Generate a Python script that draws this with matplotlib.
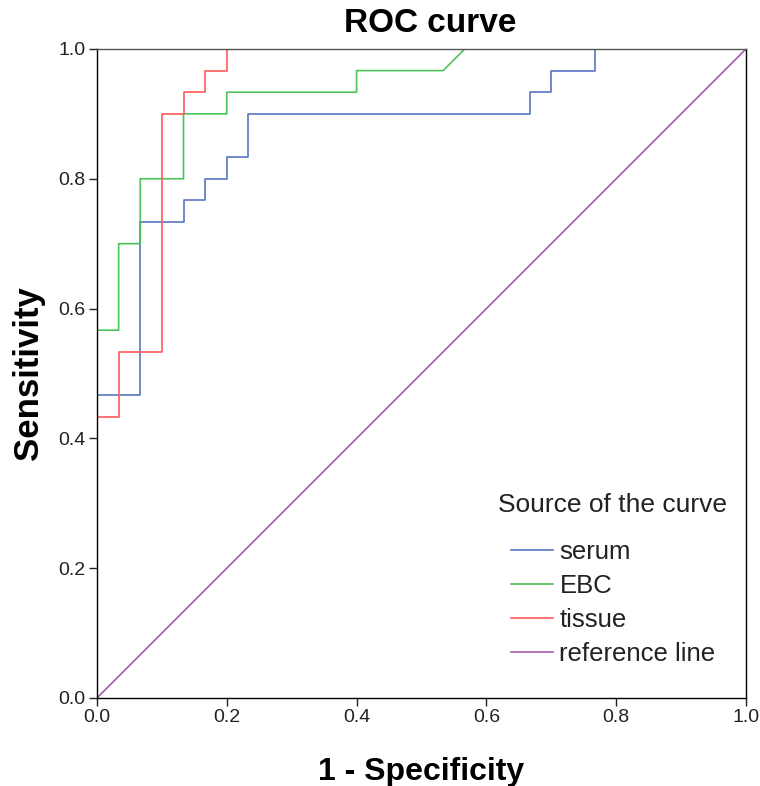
import matplotlib.pyplot as plt
import matplotlib.transforms as mtransforms
import numpy as np

N = 30  # cases per group

# ROC vertices as counts out of N (false positives, true positives)
serum_fp = [0, 0, 2, 2, 4, 4, 5, 5, 6, 6, 7, 7, 20, 20, 21, 21, 23, 23, 30]
serum_tp = [0, 14, 14, 22, 22, 23, 23, 24, 24, 25, 25, 27, 27, 28, 28, 29, 29, 30, 30]

ebc_fp = [0, 0, 1, 1, 2, 2, 4, 4, 6, 6, 12, 12, 16, 17, 30]
ebc_tp = [0, 17, 17, 21, 21, 24, 24, 27, 27, 28, 28, 29, 29, 30, 30]

tissue_fp = [0, 0, 1, 1, 3, 3, 4, 4, 5, 5, 6, 6, 30]
tissue_tp = [0, 13, 13, 16, 16, 27, 27, 28, 28, 29, 29, 30, 30]

ref_x = [0, 1]
ref_y = [0, 1]

ticks = [0.0, 0.2, 0.4, 0.6, 0.8, 1.0]

plt.rcParams['font.family'] = ['Liberation Sans', 'DejaVu Sans']

fig = plt.figure(figsize=(7.6, 7.86), dpi=100)
ax = fig.add_axes([0.1276, 0.1120, 0.8540, 0.8257])

lw = 1.2
ax.plot(np.array(serum_fp) / N, np.array(serum_tp) / N, color='#5b74c4', lw=lw, label='serum')
ax.plot(np.array(ebc_fp) / N, np.array(ebc_tp) / N, color='#4cc45a', lw=lw, label='EBC')
ax.plot(np.array(tissue_fp) / N, np.array(tissue_tp) / N, color='#ff5a5a', lw=lw, label='tissue')
ax.plot(ref_x, ref_y, color='#a55aad', lw=lw, label='reference line')

ax.set_xlim(0, 1)
ax.set_ylim(0, 1)
ax.set_xticks(ticks)
ax.set_yticks(ticks)
ax.set_xticklabels([f"{t:.1f}" for t in ticks])
ax.set_yticklabels([f"{t:.1f}" for t in ticks])
ax.tick_params(direction='out', length=6, width=1, labelsize=14, colors='#222222', pad=2)
for s in ax.spines.values():
    s.set_linewidth(1.0)
    s.set_color('black')
ax.spines['top'].set_color('#555555')

ax.set_title("ROC curve", fontsize=24, fontweight='bold', pad=12)
ax.title.set_x(0.513)
ax.set_xlabel("1 - Specificity", fontsize=23, fontweight='bold', labelpad=22)
ax.set_ylabel("Sensitivity", fontsize=25, fontweight='bold', labelpad=10)

leg = ax.legend(title="Source of the curve", loc='lower right', bbox_to_anchor=(1.027, 0.013),
                frameon=False, fontsize=18.5, title_fontsize=19, handlelength=1.6,
                handletextpad=0.27, labelspacing=0.4, alignment='left')
leg._legend_box.sep = 16
for t in leg.get_texts():
    t.set_color('#222222')
ttl = leg.get_title()
ttl.set_color('#222222')
ttl.set_transform(ttl.get_transform()
                  + mtransforms.ScaledTranslation(-10 / 72, 0, fig.dpi_scale_trans))

fig.savefig("out.png", dpi=100)
